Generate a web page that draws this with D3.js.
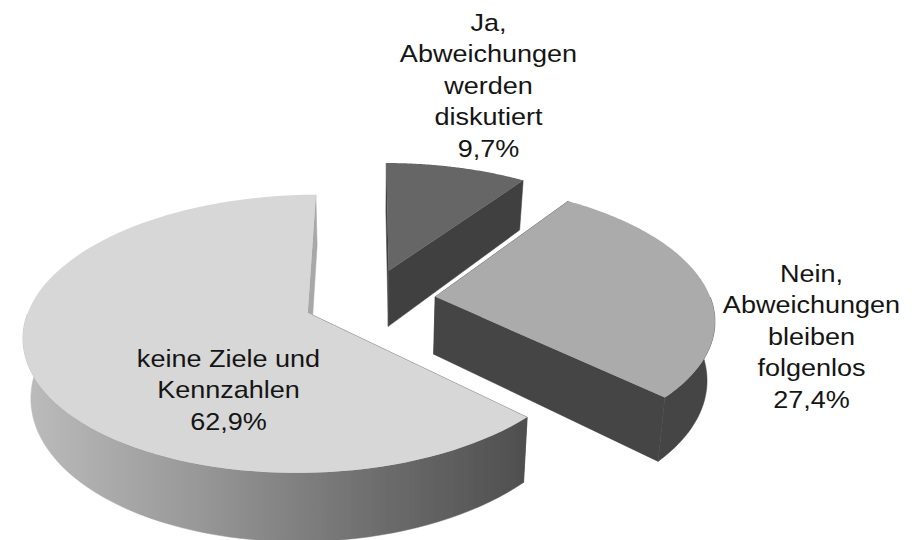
<!DOCTYPE html>
<html>
<head>
<meta charset="utf-8">
<script src="https://d3js.org/d3.v7.min.js"></script>
<style>
  html, body { margin: 0; padding: 0; background: #fff; }
  text { font-family: "Liberation Sans", Arial, sans-serif; font-size: 24px; fill: #151515; }
</style>
</head>
<body>
<svg width="915" height="540"></svg>
<script>
    var categories = ["Ja, Abweichungen werden diskutiert", "Nein, Abweichungen bleiben folgenlos", "keine Ziele und Kennzahlen"];
    var values = [9.7, 27.4, 62.9];
    var valueLabels = ["9,7%", "27,4%", "62,9%"];
    var labelLines = [
        ["Ja,", "Abweichungen", "werden", "diskutiert"],
        ["Nein,", "Abweichungen", "bleiben", "folgenlos"],
        ["keine Ziele und", "Kennzahlen"]
    ];
    var topColors = ["#666666", "#ababab", "#d7d7d7"];
    var wallColors = ["#404040", "#444444", "#505050"];

    var svg = d3.select("svg"),
        width = +svg.attr("width"),
        height = +svg.attr("height");

    // perspective of the pie floor, fitted by eye
    var cx = 369.5, cy = 300, scaleX = 276, scaleY = 132, persp = 0.15, depth = 57.5, shrink = 0.0004;
    var explode = 0.24;

    function project(px, py, z) {
        var w = 1 - persp * py;
        return [
            cx + (scaleX * px / w) * (1 - shrink * z),
            cy + scaleY * py / w + z / w
        ];
    }

    var pie = d3.pie().sort(null).value(function(d) { return d; });
    var arcs = pie(values);

    // horizontal shading on the big slice rim
    var defs = svg.append("defs");
    var grad = defs.append("linearGradient")
        .attr("id", "rim")
        .attr("gradientUnits", "userSpaceOnUse")
        .attr("x1", 20).attr("x2", 525).attr("y1", 0).attr("y2", 0);
    grad.selectAll("stop")
        .data([[0, "#bdbdbd"], [0.35, "#989898"], [0.7, "#6e6e6e"], [1, "#4f4f4f"]])
        .enter().append("stop")
        .attr("offset", function(d) { return d[0]; })
        .attr("stop-color", function(d) { return d[1]; });

    // the source picture is a little soft
    defs.append("filter").attr("id", "soft")
        .append("feGaussianBlur").attr("stdDeviation", 0.5);

    var line = d3.line();

    function slicePts(d) {
        var mid = (d.startAngle + d.endAngle) / 2;
        return {
            ox: explode * Math.sin(mid),
            oy: -explode * Math.cos(mid),
            angles: d3.range(0, 101).map(function(i) {
                return d.startAngle + (d.endAngle - d.startAngle) * i / 100;
            })
        };
    }

    function rimPoint(s, a, z) {
        return project(s.ox + Math.sin(a), s.oy - Math.cos(a), z);
    }

    var slices = svg.append("g").attr("class", "slices")
        .attr("filter", "url(#soft)")
        .selectAll("g")
        .data(arcs)
        .enter().append("g");

    slices.each(function(d, i) {
        var g = d3.select(this), s = slicePts(d);
        var apexTop = project(s.ox, s.oy, 0), apexLow = project(s.ox, s.oy, depth);
        var rimFill = i == 2 ? "url(#rim)" : wallColors[i];

        // walls from centre to rim
        [d.startAngle, d.endAngle].forEach(function(a, k) {
            var c = (i == 2 && k == 1) ? "#a8a8a8" : wallColors[i];
            g.append("path")
                .attr("d", line([apexTop, rimPoint(s, a, 0), rimPoint(s, a, depth), apexLow]) + "Z")
                .attr("fill", c)
                .attr("stroke", c)
                .attr("stroke-width", 0.5);
        });

        // outer rim, only the part that faces the viewer
        var front = s.angles.filter(function(a) { return Math.cos(a) < 0; });
        if (front.length) {
            var upperFront = front.map(function(a) { return rimPoint(s, a, 0); });
            var lowerFront = front.map(function(a) { return rimPoint(s, a, depth); }).reverse();
            g.append("path")
                .attr("d", line(upperFront.concat(lowerFront)) + "Z")
                .attr("fill", rimFill)
                .attr("stroke", rimFill)
                .attr("stroke-width", 0.5);
        }

        // top face
        var upper = s.angles.map(function(a) { return rimPoint(s, a, 0); });
        g.append("path")
            .attr("d", line([apexTop].concat(upper)) + "Z")
            .attr("fill", topColors[i]);
    });

    // labels, the glyphs are stretched sideways in the original
    var labelPos = [[488.5, 31], [811.5, 282], [228.5, 367]];
    var pitch = 31.5, stretch = 1.127;
    svg.append("g").selectAll("text")
        .data(labelLines)
        .enter().append("text")
        .attr("text-anchor", "middle")
        .attr("transform", function(d, i) {
            return "translate(" + labelPos[i][0] + ",0) scale(" + stretch + ",1)";
        })
        .each(function(d, i) {
            var t = d3.select(this);
            d.concat([valueLabels[i]]).forEach(function(txt, k) {
                t.append("tspan")
                    .attr("x", 0)
                    .attr("y", labelPos[i][1] + k * pitch)
                    .text(txt);
            });
        });
</script>
</body>
</html>
